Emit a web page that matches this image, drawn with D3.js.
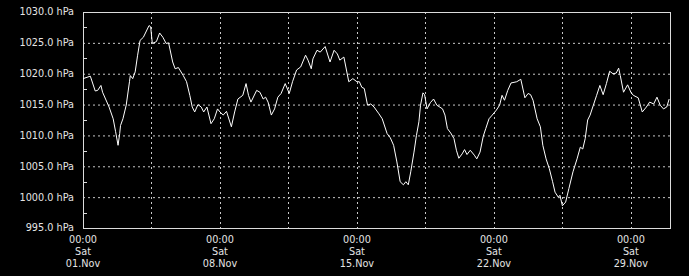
<!DOCTYPE html>
<head>
  <meta charset="utf-8">
  <script src="https://d3js.org/d3.v7.min.js"></script>
  <style>
    body { margin:0; background:#000; }
    svg { display:block; }
    text { font-family: "DejaVu Sans", Verdana, sans-serif; font-size: 9.7px; fill: #e4e4e4; }
  </style>
</head>

<body>

  <script>

    // hours since 01.Nov 00:00 and pressure (hPa)
    var hours = [0, 9, 15, 18, 22, 24, 32, 37, 40, 43, 45, 46, 49, 53, 57, 58, 61, 64, 67, 70,
      74, 81, 83, 85, 90, 94, 98, 102, 105, 110, 113, 117, 123, 127, 131, 134, 137, 141, 145, 148,
      152, 157, 161, 165, 168, 172, 176, 182, 186, 190, 196, 200, 203, 206, 213, 217, 221, 224, 227, 231,
      235, 239, 243, 248, 253, 257, 262, 267, 273, 276, 280, 282, 287, 291, 297, 303, 308, 312, 315, 320,
      326, 331, 336, 339, 342, 345, 349, 353, 357, 363, 367, 373, 377, 381, 385, 389, 393, 396, 399, 402,
      406, 409, 412, 414, 417, 419, 422, 426, 430, 434, 441, 444, 447, 451, 455, 458, 461, 465, 468, 471,
      475, 480, 483, 487, 491, 494, 498, 502, 507, 511, 514, 517, 521, 525, 532, 537, 542, 546, 549, 552,
      557, 561, 564, 568, 572, 576, 579, 583, 585, 588, 592, 596, 601, 606, 610, 613, 616, 619, 622, 626,
      630, 634, 638, 642, 646, 650, 654, 657, 659, 663, 668, 672, 675, 681, 686, 691, 695, 700, 704, 708,
      712, 716, 719];

    var pressure = [1019.2, 1019.6, 1017.2, 1017.3, 1018.1, 1017.0, 1014.6, 1012.7, 1010.6, 1008.4, 1010.3, 1011.6, 1012.7, 1014.9, 1018.7, 1019.7, 1019.2, 1020.3, 1023.0, 1025.4,
      1025.9, 1027.8, 1027.6, 1024.9, 1025.2, 1026.6, 1025.9, 1024.9, 1025.0, 1021.9, 1020.8, 1021.0, 1019.7, 1018.7, 1016.5, 1014.6, 1013.8, 1015.0, 1014.6, 1013.8,
      1014.6, 1011.9, 1012.7, 1014.3, 1013.8, 1013.3, 1013.9, 1011.4, 1013.8, 1015.9, 1016.5, 1018.4, 1016.5, 1015.4, 1017.3, 1017.0, 1015.9, 1016.2, 1015.4, 1013.3,
      1014.3, 1016.2, 1016.8, 1018.4, 1016.8, 1018.7, 1020.6, 1021.1, 1023.0, 1022.2, 1020.8, 1022.4, 1023.8, 1023.5, 1024.4, 1021.9, 1023.8, 1023.2, 1022.2, 1022.7,
      1018.7, 1019.2, 1018.7, 1018.7, 1017.8, 1017.6, 1014.9, 1015.1, 1014.6, 1013.5, 1012.7, 1010.3, 1009.6, 1008.4, 1005.7, 1002.5, 1002.0, 1002.5, 1002.0, 1004.1,
      1007.3, 1010.0, 1012.2, 1014.9, 1016.9, 1016.6, 1014.3, 1015.3, 1015.9, 1014.9, 1014.3, 1013.3, 1011.1, 1010.4, 1009.5, 1007.6, 1006.3, 1007.0, 1007.7, 1006.9,
      1007.6, 1006.8, 1006.2, 1007.3, 1009.9, 1011.1, 1012.7, 1013.3, 1014.1, 1014.9, 1016.5, 1015.7, 1017.3, 1018.5, 1018.7, 1019.1, 1016.1, 1016.8, 1016.6, 1015.7,
      1012.7, 1011.4, 1008.4, 1006.2, 1004.6, 1002.5, 1000.8, 1000.0, 1000.3, 998.6, 999.2, 1001.4, 1004.1, 1006.2, 1008.1, 1007.8, 1009.5, 1012.5, 1013.3, 1014.9,
      1016.5, 1018.1, 1016.6, 1018.4, 1020.4, 1020.0, 1020.1, 1020.9, 1019.7, 1017.0, 1018.2, 1017.0, 1016.5, 1016.1, 1013.8, 1014.6, 1015.4, 1015.1, 1016.2, 1014.9,
      1014.3, 1014.6, 1015.9];

    var yTicks = [995, 1000, 1005, 1010, 1015, 1020, 1025, 1030];
    var yMinor = [997.5, 1002.5, 1007.5, 1012.5, 1017.5, 1022.5, 1027.5];

    var width = 689;
    var height = 276;
    var margin = { top: 12, right: 19, bottom: 48, left: 83 };

    var start = new Date(Date.UTC(2014, 10, 1));
    var end = new Date(Date.UTC(2014, 11, 1));

    var data = hours.map(function(h, i){
      return { t: d3.utcHour.offset(start, h), p: pressure[i] };
    });

    var svg = d3.select("body").append("svg")
      .attr("width", width)
      .attr("height", height)
      .style("background", "#000");

    var x = d3.scaleUtc()
      .domain([start, end])
      .range([margin.left, width - margin.right]);

    var y = d3.scaleLinear()
      .domain([995, 1030])
      .range([height - margin.bottom, margin.top]);

    // grid: horizontal
    svg.append("g").selectAll("line")
      .data(yTicks.slice(1, -1))
      .enter().append("line")
      .attr("x1", x.range()[0]).attr("x2", x.range()[1])
      .attr("y1", function(d){ return y(d) + 0.5 })
      .attr("y2", function(d){ return y(d) + 0.5 })
      .attr("stroke", "#c8c8c8")
      .attr("stroke-dasharray", "2,3");

    // grid: vertical every 3.5 days
    var vGrid = d3.range(84, 720, 84).map(function(h){ return d3.utcHour.offset(start, h) });
    svg.append("g").selectAll("line")
      .data(vGrid)
      .enter().append("line")
      .attr("x1", function(d){ return Math.round(x(d)) + 0.5 })
      .attr("x2", function(d){ return Math.round(x(d)) + 0.5 })
      .attr("y1", y.range()[1]).attr("y2", y.range()[0])
      .attr("stroke", "#c8c8c8")
      .attr("stroke-dasharray", "2,3");

    // frame
    svg.append("rect")
      .attr("x", x.range()[0] + 0.5)
      .attr("y", y.range()[1] + 0.5)
      .attr("width", x.range()[1] - x.range()[0])
      .attr("height", y.range()[0] - y.range()[1])
      .attr("fill", "none")
      .attr("stroke", "#dcdcdc");

    // minor ticks on the left
    svg.append("g").selectAll("line")
      .data(yMinor)
      .enter().append("line")
      .attr("x1", x.range()[0]).attr("x2", x.range()[0] + 4)
      .attr("y1", function(d){ return Math.round(y(d)) + 0.5 })
      .attr("y2", function(d){ return Math.round(y(d)) + 0.5 })
      .attr("stroke", "#dcdcdc");

    // y labels
    svg.append("g").selectAll("text")
      .data(yTicks)
      .enter().append("text")
      .attr("x", x.range()[0] - 9)
      .attr("y", function(d){ return y(d) })
      .attr("dy", "0.35em")
      .attr("text-anchor", "end")
      .text(function(d){ return d3.format(".1f")(d) + " hPa" });

    // x labels every week
    var xTicks = d3.utcDay.every(7).range(start, end);
    var fmts = [d3.utcFormat("%H:%M"), d3.utcFormat("%a"), d3.utcFormat("%d.%b")];
    var xl = svg.append("g").selectAll("g")
      .data(xTicks)
      .enter().append("g")
      .attr("transform", function(d){ return "translate(" + x(d) + ",0)" });
    fmts.forEach(function(f, i){
      xl.append("text")
        .attr("y", 242.5 + i * 12)
        .attr("text-anchor", "middle")
        .text(function(d){ return f(d) });
    });

    var line = d3.line()
      .x(function(d){ return x(d.t) })
      .y(function(d){ return y(d.p) });

    svg.append("path")
      .datum(data)
      .attr("d", line)
      .attr("fill", "none")
      .attr("stroke", "#fff")
      .attr("stroke-width", 1);

  </script>
</body>
